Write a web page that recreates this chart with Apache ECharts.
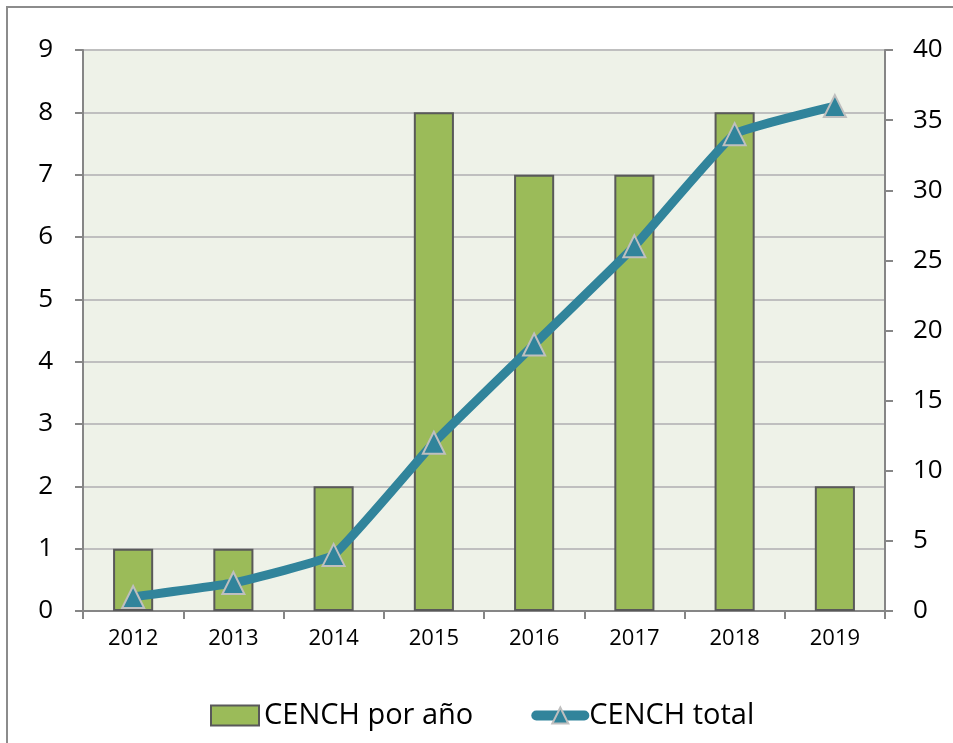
<!DOCTYPE html>
<html>
<head>
<meta charset="utf-8">
<script src="https://cdn.jsdelivr.net/npm/echarts@6/dist/echarts.min.js"></script>
<style>
  html, body { margin: 0; padding: 0; background: #fff; overflow: hidden; }
  #frame { position: absolute; left: 6px; top: 6px; width: 1000px; height: 800px; border: 2px solid #8c8c8c; box-sizing: border-box; }
  #chart { position: absolute; left: 0; top: 0; width: 953px; height: 743px; }
</style>
</head>
<body>
<div id="frame"></div>
<div id="chart"></div>
<script>
  var years = ['2012', '2013', '2014', '2015', '2016', '2017', '2018', '2019'];
  var porAnio = [1, 1, 2, 8, 7, 7, 8, 2];
  var total = [1, 2, 4, 12, 19, 26, 34, 36];

  var myChart = echarts.init(document.getElementById('chart'));
  var font = 'Open Sans';
  var option = {
    animation: false,
    textStyle: { fontFamily: font },
    grid: { left: 83, right: 68, top: 50, bottom: 132, backgroundColor: '#EEF2E8', show: true, borderWidth: 0 },
    legend: {
      top: 696,
      left: 205,
      itemGap: 58,
      itemWidth: 48,
      itemHeight: 20,
      textStyle: { fontSize: 29, color: '#000', fontFamily: font },
      data: [
        { name: 'CENCH por año', icon: 'rect', itemStyle: { color: '#9BBB59', borderColor: '#595959', borderWidth: 2 } },
        { name: 'CENCH total', lineStyle: { width: 10, color: '#31849B', cap: 'round' } }
      ]
    },
    xAxis: {
      type: 'category',
      data: years,
      axisLine: { lineStyle: { color: '#868686', width: 2 } },
      axisTick: { show: true, length: 8, lineStyle: { color: '#868686', width: 2 } },
      axisLabel: { fontSize: 22, color: '#000', margin: 17 }
    },
    yAxis: [
      {
        type: 'value', min: 0, max: 9, interval: 1,
        axisLine: { show: true, lineStyle: { color: '#868686', width: 2 } },
        axisTick: { show: true, length: 8, lineStyle: { color: '#868686', width: 2 } },
        axisLabel: { fontSize: 26, color: '#000', margin: 30 },
        splitLine: { lineStyle: { color: '#BFBFBF', width: 2 } }
      },
      {
        type: 'value', min: 0, max: 40, interval: 5,
        axisLine: { show: true, lineStyle: { color: '#868686', width: 2 } },
        axisTick: { show: true, length: 8, lineStyle: { color: '#868686', width: 2 } },
        axisLabel: { fontSize: 26, color: '#000', margin: 28 },
        splitLine: { show: false }
      }
    ],
    series: [
      {
        name: 'CENCH por año',
        type: 'bar',
        barWidth: '40%',
        data: porAnio,
        itemStyle: { color: '#9BBB59', borderColor: '#595959', borderWidth: 2 }
      },
      {
        name: 'CENCH total',
        type: 'line',
        yAxisIndex: 1,
        smooth: 0.1,
        data: total,
        symbol: 'triangle',
        symbolSize: 22,
        lineStyle: { color: '#31849B', width: 9, cap: 'round' },
        itemStyle: { color: '#31849B', borderColor: '#BFBFBF', borderWidth: 2 }
      }
    ]
  };
  option && myChart.setOption(option);
</script>
</body>
</html>
